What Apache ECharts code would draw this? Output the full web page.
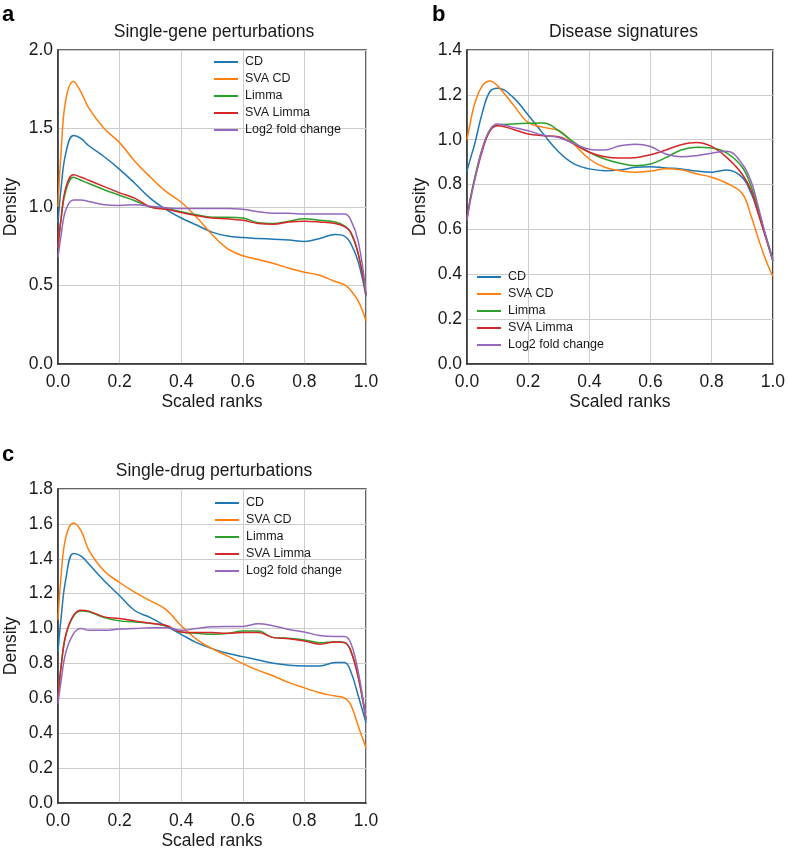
<!DOCTYPE html>
<html>
<head>
<meta charset="utf-8">
<script src="https://cdn.jsdelivr.net/npm/echarts@6/dist/echarts.min.js"></script>
<style>
html,body{margin:0;padding:0;background:#fff;}
#chart{width:788px;height:851px;}
</style>
</head>
<body>
<div id="chart"></div>
<script>
// ---- shared x grid (scaled ranks) ----
var xs = [0, 0.01, 0.025, 0.05, 0.075, 0.1, 0.15, 0.2, 0.25, 0.3, 0.35, 0.4, 0.45, 0.5, 0.55, 0.6, 0.65, 0.7, 0.75, 0.8, 0.85, 0.9, 0.93, 0.95, 0.975, 1.0];
var seriesNames = ['CD', 'SVA CD', 'Limma', 'SVA Limma', 'Log2 fold change'];
var colors = ['#1f77b4', '#ff7f0e', '#2ca02c', '#d62728', '#9467bd'];
var xTicks = [0, 0.2, 0.4, 0.6, 0.8, 1.0];

// ---- panel a: Single-gene perturbations ----
var aTitle = 'Single-gene perturbations';
var aCD      = [0.90, 1.12, 1.34, 1.455, 1.435, 1.39, 1.32, 1.24, 1.15, 1.055, 0.985, 0.93, 0.885, 0.84, 0.815, 0.805, 0.80, 0.795, 0.79, 0.78, 0.80, 0.825, 0.815, 0.77, 0.65, 0.43];
var aSVACD   = [1.00, 1.35, 1.68, 1.80, 1.73, 1.63, 1.50, 1.41, 1.29, 1.19, 1.10, 1.03, 0.935, 0.825, 0.735, 0.69, 0.665, 0.64, 0.61, 0.585, 0.565, 0.525, 0.505, 0.47, 0.40, 0.275];
var aLimma   = [0.74, 0.92, 1.10, 1.19, 1.17, 1.15, 1.11, 1.075, 1.04, 1.00, 0.99, 0.97, 0.95, 0.935, 0.935, 0.93, 0.90, 0.895, 0.91, 0.925, 0.915, 0.905, 0.88, 0.84, 0.70, 0.44];
var aSVALimma= [0.74, 0.93, 1.12, 1.205, 1.19, 1.17, 1.13, 1.09, 1.055, 1.00, 0.985, 0.965, 0.945, 0.93, 0.925, 0.915, 0.895, 0.89, 0.905, 0.91, 0.905, 0.895, 0.875, 0.84, 0.70, 0.44];
var aLog2    = [0.68, 0.82, 0.98, 1.045, 1.045, 1.035, 1.015, 1.01, 1.015, 1.005, 0.995, 0.99, 0.99, 0.99, 0.99, 0.985, 0.97, 0.96, 0.96, 0.955, 0.955, 0.955, 0.955, 0.92, 0.78, 0.45];
var aYTicks = [0, 0.5, 1.0, 1.5, 2.0];

// ---- panel b: Disease signatures ----
var bTitle = 'Disease signatures';
var bCD      = [0.86, 0.91, 0.98, 1.12, 1.215, 1.23, 1.19, 1.11, 1.025, 0.945, 0.892, 0.87, 0.862, 0.865, 0.877, 0.88, 0.874, 0.87, 0.86, 0.855, 0.865, 0.832, 0.758, 0.684, 0.58, 0.46];
var bSVACD   = [1.00, 1.07, 1.16, 1.24, 1.262, 1.24, 1.158, 1.077, 1.055, 1.04, 0.98, 0.914, 0.877, 0.862, 0.855, 0.86, 0.87, 0.866, 0.848, 0.833, 0.806, 0.76, 0.655, 0.57, 0.47, 0.39];
var bLimma   = [0.65, 0.73, 0.83, 0.96, 1.04, 1.065, 1.07, 1.073, 1.074, 1.04, 0.988, 0.944, 0.914, 0.895, 0.884, 0.892, 0.92, 0.954, 0.966, 0.963, 0.94, 0.877, 0.788, 0.70, 0.58, 0.47];
var bSVALimma= [0.65, 0.73, 0.82, 0.95, 1.04, 1.062, 1.047, 1.025, 1.018, 1.013, 0.98, 0.944, 0.924, 0.918, 0.92, 0.933, 0.954, 0.978, 0.988, 0.97, 0.92, 0.846, 0.77, 0.68, 0.57, 0.46];
var bLog2    = [0.64, 0.72, 0.82, 0.96, 1.045, 1.07, 1.055, 1.04, 1.02, 1.01, 0.983, 0.958, 0.954, 0.973, 0.98, 0.97, 0.936, 0.924, 0.929, 0.94, 0.949, 0.892, 0.81, 0.714, 0.58, 0.46];
var bYTicks = [0, 0.2, 0.4, 0.6, 0.8, 1.0, 1.2, 1.4];

// ---- panel c: Single-drug perturbations ----
var cTitle = 'Single-drug perturbations';
var cCD      = [0.87, 1.06, 1.28, 1.43, 1.415, 1.37, 1.274, 1.188, 1.102, 1.063, 1.015, 0.967, 0.919, 0.885, 0.858, 0.839, 0.82, 0.801, 0.79, 0.786, 0.786, 0.805, 0.805, 0.757, 0.613, 0.46];
var cSVACD   = [1.05, 1.30, 1.52, 1.605, 1.56, 1.45, 1.33, 1.264, 1.207, 1.159, 1.11, 1.016, 0.938, 0.885, 0.843, 0.799, 0.76, 0.728, 0.69, 0.66, 0.632, 0.613, 0.603, 0.565, 0.44, 0.316];
var cLimma   = [0.60, 0.78, 0.96, 1.07, 1.10, 1.096, 1.063, 1.044, 1.038, 1.03, 1.015, 0.98, 0.973, 0.967, 0.971, 0.986, 0.986, 0.948, 0.944, 0.935, 0.919, 0.925, 0.92, 0.875, 0.72, 0.48];
var cSVALimma= [0.60, 0.78, 0.96, 1.075, 1.105, 1.10, 1.067, 1.057, 1.044, 1.03, 1.019, 0.98, 0.977, 0.977, 0.973, 0.977, 0.977, 0.948, 0.942, 0.929, 0.91, 0.923, 0.92, 0.875, 0.72, 0.48];
var cLog2    = [0.57, 0.70, 0.86, 0.97, 1.00, 0.99, 0.99, 0.997, 1.00, 1.005, 1.005, 0.99, 1.00, 1.01, 1.012, 1.012, 1.028, 1.015, 0.995, 0.98, 0.96, 0.955, 0.955, 0.92, 0.75, 0.48];
var cYTicks = [0, 0.2, 0.4, 0.6, 0.8, 1.0, 1.2, 1.4, 1.6, 1.8];

var FONT = '"Liberation Sans", Arial, Helvetica, sans-serif';
var TXT = '#1a1a1a';

function pairs(ys) { return xs.map(function (x, i) { return [x, ys[i]]; }); }

var panels = [
  { title: aTitle, data: [aCD, aSVACD, aLimma, aSVALimma, aLog2], yTicks: aYTicks, grid: { left: 58, top: 50, width: 308, height: 314 }, legend: { left: 213, top: 55 } },
  { title: bTitle, data: [bCD, bSVACD, bLimma, bSVALimma, bLog2], yTicks: bYTicks, grid: { left: 467, top: 50, width: 309, height: 314 }, legend: { left: 476, top: 270 } },
  { title: cTitle, data: [cCD, cSVACD, cLimma, cSVALimma, cLog2], yTicks: cYTicks, grid: { left: 58, top: 489, width: 308, height: 314 }, legend: { left: 214, top: 496 } }
];

var option = {
  animation: false,
  backgroundColor: '#fff',
  color: colors,
  title: [], grid: [], xAxis: [], yAxis: [], legend: [], series: []
};

var letters = ['a', 'b', 'c'];
var letterPos = [[2, 4], [432, 4], [2, 444]];

panels.forEach(function (p, k) {
  var g = p.grid;
  option.grid.push({ left: g.left, top: g.top, width: g.width, height: g.height, show: true, borderColor: '#333', borderWidth: 1.5, containLabel: false });
  option.title.push({ text: p.title, left: g.left + g.width / 2 + 2, top: g.top - 27, textAlign: 'center', padding: 0,
    textStyle: { fontFamily: FONT, fontSize: 17.5, fontWeight: 'normal', color: TXT } });
  option.title.push({ text: letters[k], left: letterPos[k][0], top: letterPos[k][1], padding: 0,
    textStyle: { fontFamily: FONT, fontSize: 22, fontWeight: 'bold', color: '#000' } });
  var ymax = p.yTicks[p.yTicks.length - 1];
  var yint = p.yTicks[1] - p.yTicks[0];
  option.xAxis.push({
    type: 'value', gridIndex: k, min: xTicks[0], max: xTicks[xTicks.length - 1], interval: 0.2,
    name: 'Scaled ranks', nameLocation: 'middle', nameGap: 29,
    nameTextStyle: { fontFamily: FONT, fontSize: 17.5, color: TXT },
    axisLine: { show: true, lineStyle: { color: '#333', width: 1.5 } },
    axisTick: { show: false },
    axisLabel: { fontFamily: FONT, fontSize: 17.5, color: TXT, margin: 9, formatter: function (v) { return v.toFixed(1); } },
    splitLine: { show: true, lineStyle: { color: '#cccccc', width: 1 } }
  });
  option.yAxis.push({
    type: 'value', gridIndex: k, min: p.yTicks[0], max: ymax, interval: yint,
    name: 'Density', nameLocation: 'middle', nameGap: 38,
    nameTextStyle: { fontFamily: FONT, fontSize: 17.5, color: TXT },
    axisLine: { show: true, lineStyle: { color: '#333', width: 1.5 } },
    axisTick: { show: false },
    axisLabel: { fontFamily: FONT, fontSize: 17.5, color: TXT, margin: 5, formatter: function (v) { return v.toFixed(1); } },
    splitLine: { show: true, lineStyle: { color: '#cccccc', width: 1 } }
  });
  option.legend.push({
    orient: 'vertical', left: p.legend.left, top: p.legend.top, padding: 0,
    itemWidth: 24, itemHeight: 2, itemGap: 3,
    data: seriesNames.slice(),
    textStyle: { fontFamily: FONT, fontSize: 12.5, color: TXT, padding: [0, 0, 0, 2], lineHeight: 14 },
    selectedMode: false
  });
  p.data.forEach(function (ys, j) {
    option.series.push({
      type: 'line', name: seriesNames[j], xAxisIndex: k, yAxisIndex: k,
      data: pairs(ys), showSymbol: false, symbol: 'none', smooth: 0.4,
      lineStyle: { width: 1.5, color: colors[j] }, itemStyle: { color: colors[j] }
    });
  });
});

var chart = echarts.init(document.getElementById('chart'), null, { renderer: 'canvas' });
chart.setOption(option);
</script>
</body>
</html>
